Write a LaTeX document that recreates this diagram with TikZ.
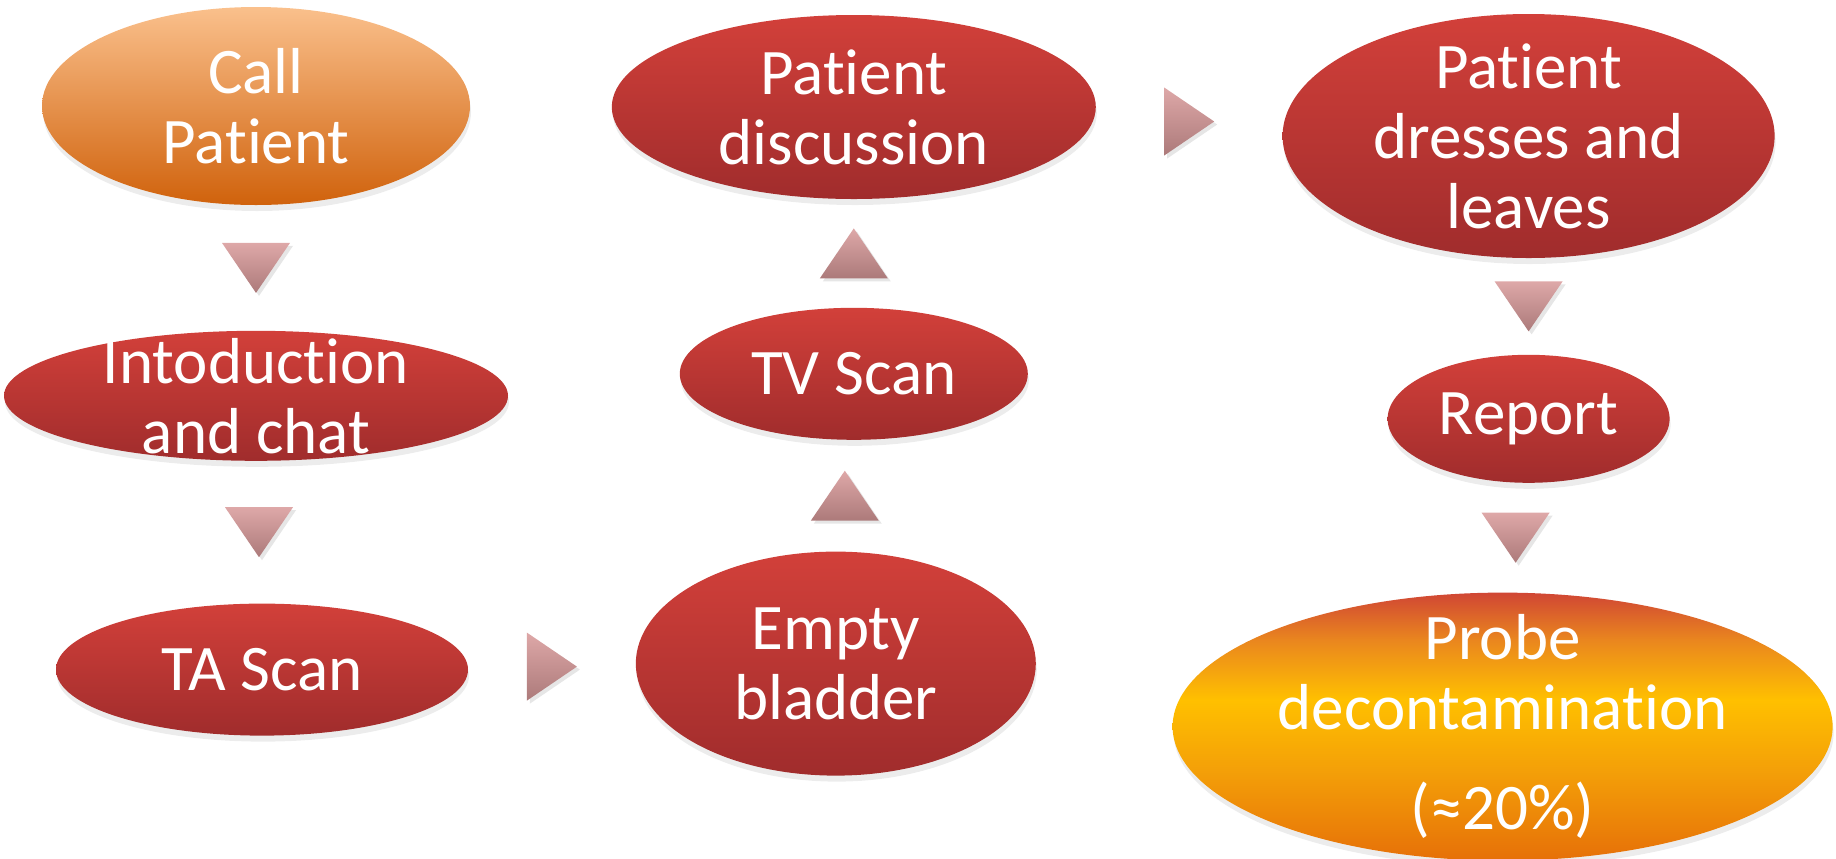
\documentclass[tikz,border=0pt]{standalone}
\usepackage{fontspec}
\setmainfont{Carlito}[Ligatures={NoCommon}]
\usetikzlibrary{positioning, shapes.geometric, calc, shadows}
\definecolor{RedTop}{RGB}{210,64,58}
\definecolor{RedBot}{RGB}{160,44,44}
\definecolor{OrangeTop}{RGB}{250,192,140}
\definecolor{OrangeBot}{RGB}{208,98,12}
\definecolor{ArrowTop}{RGB}{222,168,168}
\definecolor{ArrowBot}{RGB}{172,122,122}
\definecolor{ProbeRed}{RGB}{208,70,52}
\definecolor{ProbeOrange}{RGB}{234,135,30}
\definecolor{ProbeYellow}{RGB}{255,192,0}
\definecolor{ProbeAmber}{RGB}{244,160,8}
\definecolor{ProbeLow}{RGB}{230,112,8}

% red-orange top, yellow band, orange bottom
\pgfdeclareverticalshading{probefill}{100bp}{color(0bp)=(ProbeLow); color(25bp)=(ProbeLow); color(42bp)=(ProbeAmber); color(55bp)=(ProbeYellow); color(66bp)=(ProbeOrange); color(75bp)=(ProbeRed); color(100bp)=(ProbeRed)}

\begin{document}
\begin{tikzpicture}[
  x=0.5pt, y=-0.5pt,
  font=\fontsize{32.5}{35}\selectfont,
  oval/.style={ellipse, inner sep=0pt, drop shadow={opacity=0.15, shadow xshift=0.5pt, shadow yshift=-3pt}},
  redoval/.style={oval, top color=RedTop, bottom color=RedBot},
  txt/.style={text=white, align=center},
  tri/.style={top color=ArrowTop, bottom color=ArrowBot, drop shadow={opacity=0.2, shadow xshift=1.5pt, shadow yshift=-1.5pt}},
  pics/tridown/.style={code={\path[tri] (-17pt,12.5pt) -- (17pt,12.5pt) -- (0pt,-12.5pt) -- cycle;}},
  pics/triup/.style={code={\path[tri] (-17pt,-12.5pt) -- (17pt,-12.5pt) -- (0pt,12.5pt) -- cycle;}},
  pics/triright/.style={code={\path[tri] (-12.5pt,17pt) -- (12.5pt,0pt) -- (-12.5pt,-17pt) -- cycle;}}
]
  \useasboundingbox (0,0) rectangle (1836,858);

  % left column
  \node[oval, top color=OrangeTop, bottom color=OrangeBot, minimum width=214pt, minimum height=99pt,
        label={[txt]center:{Call\\Patient}}] (call) at (256,106) {};
  \node[redoval, minimum width=252pt, minimum height=65pt, below=62.5pt of call,
        label={[txt]center:{Intoduction\\and chat}}] (intro) {};
  \node[redoval, minimum width=206pt, minimum height=66pt, below=71pt of intro, xshift=3pt,
        label={[txt]center:{TA Scan}}] (ta) {};

  % middle column, going up
  \node[redoval, minimum width=200pt, minimum height=112pt, right=83.5pt of ta, yshift=3pt,
        label={[txt]center:{Empty\\bladder}}] (empty) {};
  \node[redoval, minimum width=174pt, minimum height=66pt, above=55.5pt of empty, xshift=9pt,
        label={[txt]center:{TV Scan}}] (tv) {};
  \node[redoval, minimum width=242pt, minimum height=92pt, above=54pt of tv,
        label={[txt]center:{Patient\\discussion}}] (disc) {};

  % right column
  \node[redoval, minimum width=246pt, minimum height=122pt, right=93pt of disc, yshift=-14.5pt,
        label={[txt]center:{Patient\\dresses and\\leaves}}] (dress) {};
  \node[redoval, minimum width=141pt, minimum height=64pt, below=48pt of dress,
        label={[txt]center:{Report}}] (report) {};
  \node[oval, shading=probefill, minimum width=330pt, minimum height=134pt, below=54.5pt of report, xshift=-13pt,
        label={[txt]center:{Probe\\decontamination\\[15pt](≈20\%)}}] (probe) {};

  % arrows between steps
  \pic at ($(call.south)!0.5!(intro.north)$) {tridown};
  \pic at ($(intro.south)!0.5!(ta.north)$) {tridown};
  \pic at ($(ta.east)!0.5!(empty.west)$) {triright};
  \pic at ($(empty.north)!0.5!(tv.south)$) {triup};
  \pic at ($(tv.north)!0.5!(disc.south)$) {triup};
  \pic at ($(disc.east)!0.5!(dress.west)$) {triright};
  \pic at ($(dress.south)!0.5!(report.north)$) {tridown};
  \pic at ($(report.south)!0.5!(probe.north)$) {tridown};
\end{tikzpicture}
\end{document}
